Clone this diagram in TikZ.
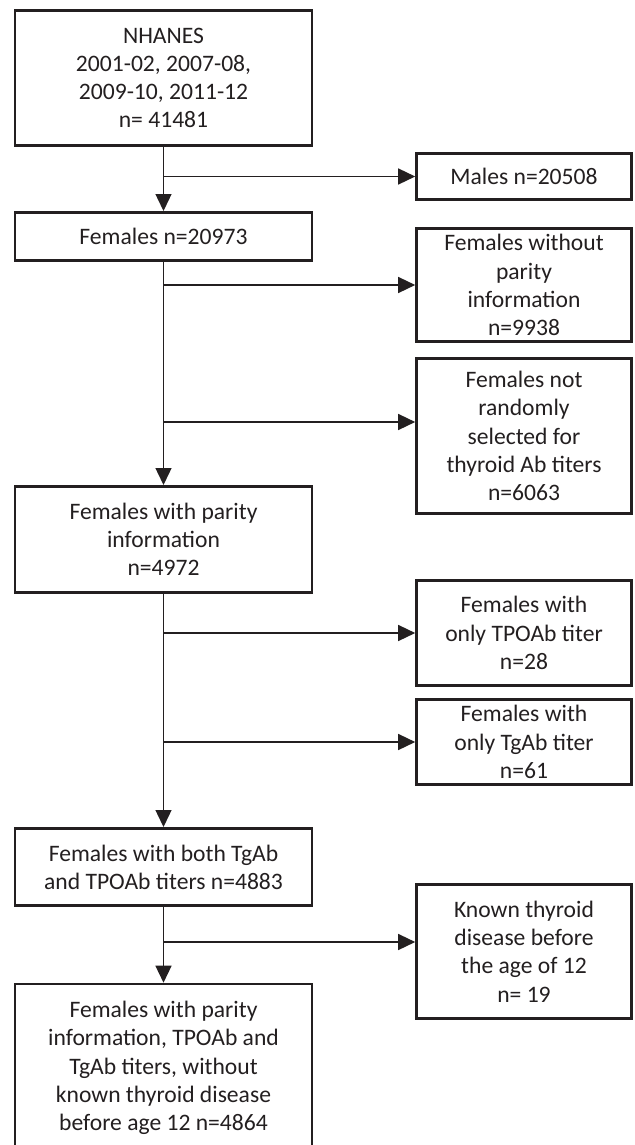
\documentclass[tikz,border=0pt]{standalone}
\usepackage{fontspec}
\setmainfont{Carlito}
\usetikzlibrary{arrows.meta}
\definecolor{inkgray}{HTML}{231F20}
\tikzset{
  box/.style={draw=inkgray, line width=1.3pt, align=center, inner sep=2pt, text=inkgray},
  leftbox/.style={box, minimum width=148.5pt},
  rightbox/.style={box, minimum width=107.5pt},
  link/.style={draw=inkgray, line width=0.7pt}
}
\begin{document}
\begin{tikzpicture}[x=0.5pt, y=-0.5pt, font=\fontsize{11.8}{14.1}\selectfont, line join=miter, >={Triangle[length=8.5pt,width=8pt]}]
  \useasboundingbox (0,0) rectangle (634,1145);
  % main column
  \node[leftbox, minimum height=67.7pt] (nhanes) at (163.5,78) {NHANES\\2001-02, 2007-08,\\2009-10, 2011-12\\n= 41481};
  \node[leftbox, minimum height=24.2pt] (fem) at (163.5,236.5) {Females n=20973};
  \node[leftbox, minimum height=53.2pt] (parity) at (163.5,539.5) {Females with parity\\information\\n=4972};
  \node[leftbox, minimum height=38.7pt] (both) at (163.5,867) {Females with both TgAb\\and TPOAb titers n=4883};
  \node[leftbox, minimum height=84pt] (final) at (163.5,1068) {Females with parity\\information, TPOAb and\\TgAb titers, without\\known thyroid disease\\before age 12 n=4864};
  % excluded
  \node[rightbox, minimum height=23.2pt] (males) at (524,176.5) {Males n=20508};
  \node[rightbox, minimum height=56.7pt] (noparity) at (524,285) {Females without\\parity\\information\\n=9938};
  \node[rightbox, minimum height=77.7pt] (notsel) at (524,436) {Females not\\randomly\\selected for\\thyroid Ab titers\\n=6063};
  \node[rightbox, minimum height=52.7pt] (tpo) at (524,633) {Females with\\only TPOAb titer\\n=28};
  \node[rightbox, minimum height=42.7pt] (tg) at (524,742) {Females with\\only TgAb titer\\n=61};
  \node[rightbox, minimum height=67.2pt] (known) at (524,951.5) {Known thyroid\\disease before\\the age of 12\\n= 19};
  \coordinate (notselin) at ([yshift=7pt]notsel.west);
  \coordinate (knownin) at ([yshift=4.75pt]known.west);
  % connectors
  \draw[link,->] (nhanes) -- (fem);
  \draw[link,->] (fem) -- (parity);
  \draw[link,->] (parity) -- (both);
  \draw[link,->] (both) -- (final);
  \draw[link,->] (nhanes.south |- males.west) -- (males.west);
  \draw[link,->] (fem.south |- noparity.west) -- (noparity.west);
  \draw[link,->] (fem.south |- notselin) -- (notselin);
  \draw[link,->] (parity.south |- tpo.west) -- (tpo.west);
  \draw[link,->] (parity.south |- tg.west) -- (tg.west);
  \draw[link,->] (both.south |- knownin) -- (knownin);
\end{tikzpicture}
\end{document}
